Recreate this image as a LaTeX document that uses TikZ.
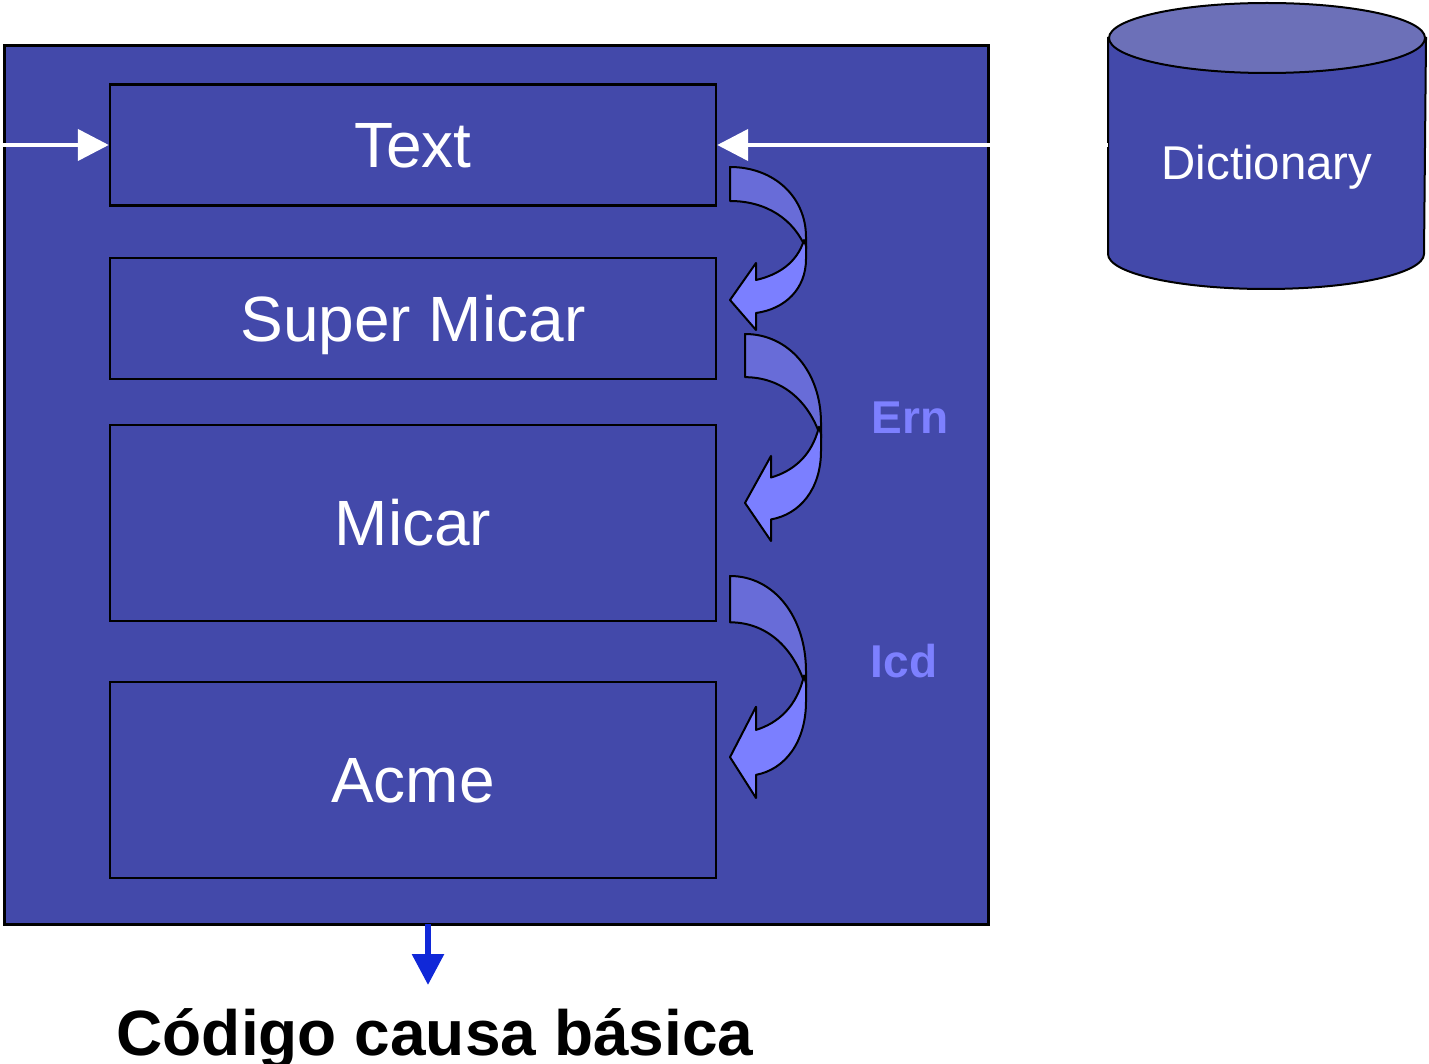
\documentclass[tikz,border=0pt]{standalone}
\usepackage{fontspec}
\setmainfont{Liberation Sans}
\usetikzlibrary{arrows.meta}

\definecolor{panelblue}{RGB}{67,73,170}
\definecolor{bandback}{RGB}{104,108,216}
\definecolor{bandfront}{RGB}{123,127,255}
\definecolor{cyltop}{RGB}{108,112,184}
\definecolor{outblue}{RGB}{16,40,216}
\definecolor{steplabel}{RGB}{125,128,255}

\tikzset{
  stagebox/.style={draw=black, line width=1.2pt, fill=panelblue, text=white,
    minimum width=303pt, inner sep=0pt, text height=22.9pt, text depth=0pt,
    font=\fontsize{32}{38}\selectfont},
  bandline/.style={draw=black, line width=1pt, line join=round},
  whitearrow/.style={draw=white, line width=2.2pt,
    -{Triangle[length=15.5pt,width=15.5pt]}},
  outarrow/.style={draw=outblue, line width=3pt,
    -{Triangle[length=15.5pt,width=15.5pt]}},
  sidelabel/.style={text=steplabel, font=\bfseries\fontsize{23}{28}\selectfont,
    inner sep=0pt, anchor=base},
}

% curved hand-over arrow: tail top-left at (#1,#2), total height #3
\newcommand{\handover}[3]{%
  \begin{scope}[shift={(#1,#2)}, yscale=#3/163]
    \draw[bandline, fill=bandback]
      (0,0) .. controls (44,0) and (76,30) .. (76,70) -- (76,82)
      .. controls (64,52) and (36,34) .. (0,34) -- cycle;
    \draw[bandline, fill=bandfront]
      (74,73) -- (76,79) -- (76,92)
      .. controls (76,122) and (55,142) .. (26,146)
      -- (26,163) -- (0,133) -- (26,96) -- (26,113)
      .. controls (48,108) and (67,96) .. (74,73) -- cycle;
  \end{scope}}

\begin{document}
\begin{tikzpicture}[x=0.5pt, y=-0.5pt]
  \useasboundingbox (0,0) rectangle (1429,1064);
  \clip (0,0) rectangle (1429,1064);

  % main panel
  \node[draw=black, line width=1.5pt, fill=panelblue, inner sep=0pt,
        minimum width=492pt, minimum height=439pt] (panel) at (496,485) {};

  % stages
  \node[stagebox, minimum height=60.5pt] (textbox)  at (413,145) {Text};
  \node[stagebox, minimum height=60.5pt] (supermicar) at (413,318.5) {Super Micar};
  \node[stagebox, minimum height=98pt]   (micar)    at (413,523) {Micar};
  \node[stagebox, minimum height=98pt]   (acme)     at (413,780) {Acme};

  % hand-over arrows between stages
  \handover{730}{167}{163}
  \handover{745}{334}{207}
  \handover{730}{576}{222}

  \node[sidelabel] (ern) at (910,433) {Ern};
  \node[sidelabel] (icd) at (904,677) {Icd};

  % dictionary store
  \draw[line width=1pt, fill=panelblue]
    (1108,38) -- (1108,254)
    arc[start angle=180, end angle=360, x radius=79pt, y radius=17.5pt]
    -- (1426,38) -- cycle;
  \draw[line width=1pt, fill=cyltop] (1267,38) ellipse[x radius=79pt, y radius=17.5pt];
  \node[text=white, inner sep=0pt, anchor=base, font=\fontsize{23.7}{28}\selectfont]
    (dict) at (1267,180) {Dictionary};

  % inputs
  \coordinate (leftin) at (0,145);
  \coordinate (dictin) at (1108,145);
  \draw[whitearrow] (leftin) -- (textbox.west);
  \draw[whitearrow] (dictin) -- (textbox.east);

  % output
  \node[inner sep=0pt, anchor=base, font=\bfseries\fontsize{32}{38}\selectfont]
    (title) at (435,1055) {Código causa básica};
  \coordinate (outtop) at (428,924);
  \coordinate (outtip) at (428,985);
  \draw[outarrow] (outtop) -- (outtip);
\end{tikzpicture}
\end{document}
